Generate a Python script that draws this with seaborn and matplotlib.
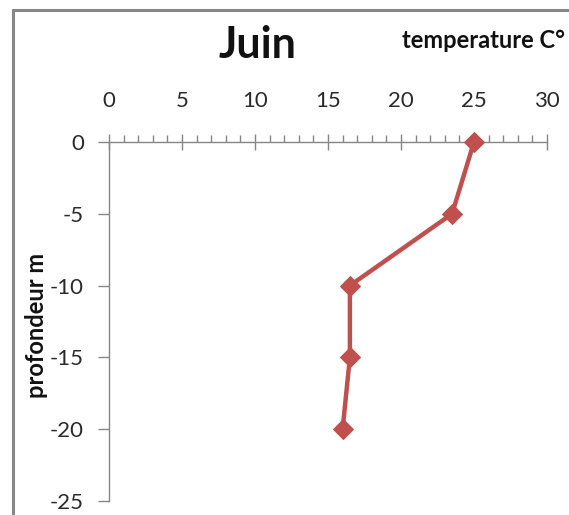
import matplotlib
matplotlib.use("Agg")
import matplotlib.pyplot as plt
from matplotlib.lines import Line2D
from matplotlib.ticker import MultipleLocator
import seaborn as sns
import pandas as pd

# Temperature profile by depth (June)
temperature = [25.0, 23.5, 16.5, 16.5, 16.0]
depth = [0, -5, -10, -15, -20]
x_ticks = [0, 5, 10, 15, 20, 25, 30]
y_ticks = [0, -5, -10, -15, -20, -25]

sns.set_theme(style="white")
plt.rcParams["font.family"] = ["Lato", "DejaVu Sans"]
plt.rcParams["axes.unicode_minus"] = False

df = pd.DataFrame({"temperature": temperature, "depth": depth})

fig = plt.figure(figsize=(5.69, 5.15), dpi=100)
ax = fig.add_axes([0.1916, 0.0272, 0.9613 - 0.1916, 0.7243 - 0.0272])

sns.lineplot(data=df, x="temperature", y="depth", sort=False, estimator=None,
             color="#C0504D", linewidth=3.2, marker="D", markersize=10.5,
             markeredgecolor="#C0504D", clip_on=False, zorder=5, ax=ax)

ax.set_xlim(0, 30)
ax.set_ylim(-25, 0)
ax.set_xticks(x_ticks)
ax.set_yticks(y_ticks)
ax.xaxis.set_minor_locator(MultipleLocator(1))
ax.xaxis.tick_top()
ax.xaxis.set_label_position("top")

axis_grey = "#868686"
for side in ("right", "bottom"):
    ax.spines[side].set_visible(False)
for side in ("top", "left"):
    ax.spines[side].set_visible(True)
    ax.spines[side].set_color(axis_grey)
    ax.spines[side].set_linewidth(1.0)

ax.tick_params(axis="x", which="major", direction="inout", length=12, width=1,
               color=axis_grey, pad=16, labelsize=16, labelcolor="#2a2a2a")
ax.tick_params(axis="x", which="minor", direction="out", length=5, width=1,
               color=axis_grey, top=True, bottom=False)
ax.tick_params(axis="y", which="major", direction="out", length=8, width=1,
               color=axis_grey, pad=10, labelsize=16, labelcolor="#2a2a2a", left=True)

ax.set_xlabel("")
ax.set_ylabel("profondeur m", fontsize=17, fontweight="bold", color="#111111")
ax.yaxis.set_label_coords(-0.139, 0.49)

fig.text(0.452, 0.912, "Juin", ha="center", va="center", fontsize=31,
         fontweight="bold", color="#111111")
fig.text(0.993, 0.922, "temperature C°", ha="right", va="center", fontsize=17,
         fontweight="bold", color="#111111")

# Chart area frame
fig.add_artist(Line2D([0.022, 0.022], [0.0, 0.981], transform=fig.transFigure,
                      color=axis_grey, linewidth=2.2))
fig.add_artist(Line2D([0.022, 1.0], [0.981, 0.981], transform=fig.transFigure,
                      color=axis_grey, linewidth=2.2))

fig.savefig("out.png", dpi=100)
